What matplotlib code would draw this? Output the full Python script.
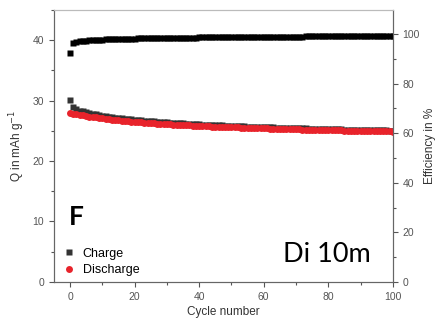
import numpy as np
import matplotlib.pyplot as plt
from matplotlib.ticker import MultipleLocator

plt.rcParams['font.family'] = ['Liberation Sans', 'DejaVu Sans']

cycles = list(range(0, 101))

# Q in mAh/g
charge = [30.1, 28.9, 28.55, 28.35, 28.2, 28.05, 27.9, 27.8, 27.7, 27.6,
          27.5, 27.42, 27.34, 27.26, 27.19, 27.12, 27.05, 26.99, 26.93, 26.87,
          26.82, 26.77, 26.72, 26.67, 26.62, 26.58, 26.54, 26.5, 26.46, 26.42,
          26.38, 26.35, 26.31, 26.28, 26.25, 26.21, 26.18, 26.15, 26.12, 26.09,
          26.06, 26.04, 26.01, 25.98, 25.96, 25.93, 25.91, 25.88, 25.86, 25.84,
          25.81, 25.79, 25.77, 25.75, 25.73, 25.71, 25.68, 25.66, 25.64, 25.62,
          25.6, 25.59, 25.57, 25.55, 25.53, 25.51, 25.5, 25.48, 25.46, 25.44,
          25.43, 25.41, 25.4, 25.38, 25.36, 25.35, 25.33, 25.32, 25.3, 25.29,
          25.28, 25.26, 25.25, 25.23, 25.22, 25.21, 25.19, 25.18, 25.17, 25.15,
          25.14, 25.13, 25.12, 25.11, 25.09, 25.08, 25.07, 25.06, 25.05, 25.04,
          25.03]

discharge = [28.0, 27.85, 27.75, 27.65, 27.55, 27.45, 27.35, 27.28, 27.2, 27.12,
             27.05, 26.98, 26.92, 26.86, 26.8, 26.74, 26.68, 26.63, 26.58, 26.53,
             26.48, 26.44, 26.4, 26.36, 26.32, 26.28, 26.24, 26.2, 26.17, 26.14,
             26.1, 26.07, 26.04, 26.01, 25.98, 25.95, 25.92, 25.89, 25.86, 25.84,
             25.81, 25.79, 25.76, 25.74, 25.71, 25.69, 25.67, 25.65, 25.63, 25.61,
             25.59, 25.57, 25.55, 25.53, 25.51, 25.49, 25.47, 25.45, 25.43, 25.42,
             25.4, 25.38, 25.36, 25.35, 25.33, 25.31, 25.3, 25.28, 25.27, 25.25,
             25.24, 25.22, 25.21, 25.19, 25.18, 25.17, 25.15, 25.14, 25.13, 25.11,
             25.1, 25.09, 25.08, 25.06, 25.05, 25.04, 25.03, 25.02, 25.0, 24.99,
             24.98, 24.97, 24.96, 24.95, 24.94, 24.93, 24.92, 24.91, 24.9, 24.89,
             24.88]

# coulombic efficiency in %
efficiency = [92.5, 96.3, 96.8, 97.0, 97.2, 97.35, 97.45, 97.55, 97.6, 97.7,
              97.75, 97.8, 97.85, 97.9, 97.94, 97.98, 98.02, 98.05, 98.08, 98.11,
              98.14, 98.17, 98.2, 98.22, 98.25, 98.27, 98.3, 98.32, 98.34, 98.36,
              98.38, 98.4, 98.42, 98.44, 98.46, 98.48, 98.5, 98.52, 98.54, 98.55,
              98.57, 98.59, 98.6, 98.62, 98.63, 98.65, 98.66, 98.68, 98.69, 98.7,
              98.72, 98.73, 98.74, 98.76, 98.77, 98.78, 98.79, 98.8, 98.82, 98.83,
              98.84, 98.85, 98.86, 98.87, 98.88, 98.89, 98.9, 98.91, 98.92, 98.93,
              98.94, 98.95, 98.96, 98.97, 98.98, 98.99, 99.0, 99.01, 99.02, 99.03,
              99.04, 99.05, 99.06, 99.06, 99.07, 99.08, 99.09, 99.1, 99.11, 99.11,
              99.12, 99.13, 99.14, 99.15, 99.15, 99.16, 99.17, 99.18, 99.19, 99.19,
              99.2]

fig = plt.figure(figsize=(4.38, 3.29), dpi=100)
ax = fig.add_axes([0.123, 0.143, 0.774, 0.827])
ax2 = ax.twinx()

ax.plot(cycles, charge, 's', color='#333333', ms=4.5, mec='none', label='Charge', zorder=3)
ax.plot(cycles, discharge, 'o', color='#e8232b', ms=5, mec='none', label='Discharge', zorder=4)
ax2.plot(cycles, efficiency, 's', color='black', ms=5, mec='none')

ax.set_xlim(-5, 100)
ax.set_ylim(0, 45)
ax2.set_ylim(0, 109.7)

ax.xaxis.set_major_locator(MultipleLocator(20))
ax.xaxis.set_minor_locator(MultipleLocator(10))
ax.yaxis.set_major_locator(MultipleLocator(10))
ax.yaxis.set_minor_locator(MultipleLocator(5))
ax2.yaxis.set_major_locator(MultipleLocator(20))
ax2.yaxis.set_minor_locator(MultipleLocator(10))

for a in (ax, ax2):
    a.tick_params(which='both', direction='out', colors='#555555', labelsize=7.5, width=0.8)
    a.tick_params(which='major', length=3.5)
    a.tick_params(which='minor', length=2)
    for s in ['left', 'right', 'bottom']:
        a.spines[s].set_color('#666666')
    a.spines['top'].set_color('#bbbbbb')

ax.set_xlabel('Cycle number', fontsize=8.5, color='#333333', labelpad=3)
ax.set_ylabel('Q in mAh g$^{-1}$', fontsize=8.5, color='#333333', labelpad=4)
ax2.set_ylabel('Efficiency in %', fontsize=8.5, color='#333333', labelpad=3)

ax.legend(loc='lower left', frameon=False, fontsize=9, handlelength=1.0,
          handletextpad=0.6, labelspacing=0.35, borderaxespad=0.3,
          bbox_to_anchor=(0.0, -0.01))

ax.text(-0.3, 9.5, 'F', fontsize=19, fontweight='bold', family='Lato')
ax.text(66, 3.3, 'Di 10m', fontsize=19.5, family='Lato')

fig.savefig('out.png', dpi=100)
